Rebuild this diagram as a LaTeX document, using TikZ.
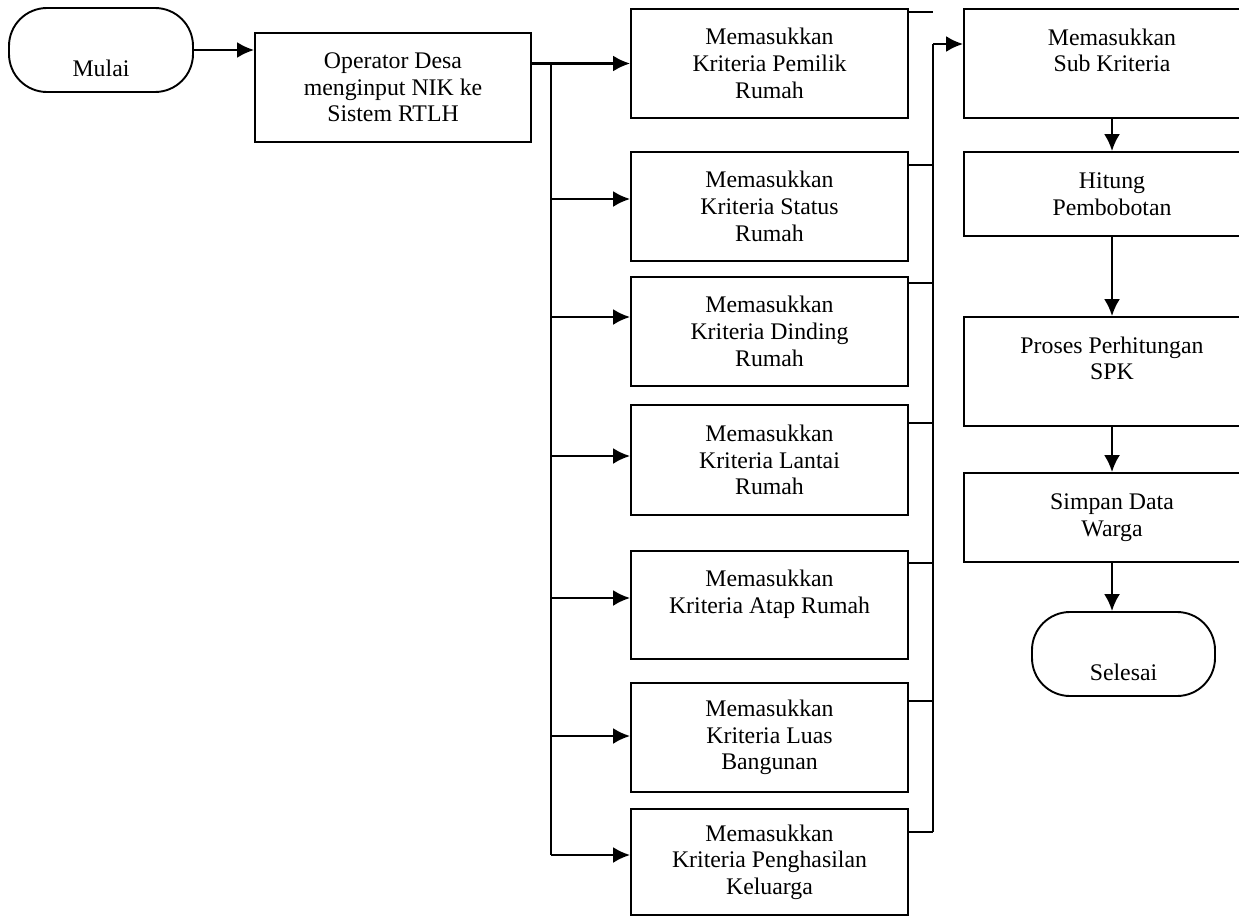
\documentclass[tikz,border=0pt]{standalone}
\usepackage{fontspec}
\setmainfont{Liberation Serif}
\usetikzlibrary{arrows.meta}

\tikzset{
    box/.style={draw, line width=1.9pt, minimum width=277pt, minimum height=109pt,
        align=center, inner sep=0pt},
    term/.style={box, rounded corners=38pt, minimum width=184pt, minimum height=84pt},
    arr/.style={line width=2.3pt, -{Latex[length=17pt,width=16pt]}},
    wire/.style={line width=1.5pt}
}

\begin{document}
\begin{tikzpicture}[x=1pt, y=-1pt, font=\fontsize{23.8}{26.7}\selectfont]

\useasboundingbox (0,0) rectangle (1239,918);
\clip (0,0) rectangle (1239,918);

\node[term] (mulai) at (101,50) {\mbox{}\\[26pt]Mulai};
\node[box, minimum width=276pt] (op) at (393,87.5) {Operator Desa\\menginput NIK ke\\Sistem RTLH};

\node[box] (k1) at (769.5,63.5) {Memasukkan\\Kriteria Pemilik\\Rumah};
\node[box] (k2) at (769.5,206.5) {Memasukkan\\Kriteria Status\\Rumah};
\node[box] (k3) at (769.5,331.5) {Memasukkan\\Kriteria Dinding\\Rumah};
\node[box, minimum height=110pt] (k4) at (769.5,460) {Memasukkan\\Kriteria Lantai\\Rumah};
\node[box, minimum height=108pt] (k5) at (769.5,605) {Memasukkan\\Kriteria Atap Rumah\\\mbox{}};
\node[box] (k6) at (769.5,737.5) {Memasukkan\\Kriteria Luas\\Bangunan};
\node[box, minimum height=106pt] (k7) at (769.5,862) {Memasukkan\\Kriteria Penghasilan\\Keluarga};

\node[box, minimum width=296pt] (sub) at (1112,63.5) {Memasukkan\\Sub Kriteria\\\mbox{}};
\node[box, minimum width=296pt, minimum height=84pt] (hit) at (1112,194) {Hitung\\Pembobotan};
\node[box, minimum width=296pt] (spk) at (1112,371.5) {Proses Perhitungan\\SPK\\\mbox{}};
\node[box, minimum width=296pt, minimum height=89pt] (simp) at (1112,517.5) {Simpan Data\\Warga};
\node[term, minimum width=183pt] (sel) at (1123.5,654) {\mbox{}\\[26pt]Selesai};

\coordinate (trunk) at (551,65);
\coordinate (coll) at (933,44);

\draw[arr] (mulai.east) -- (mulai.east -| op.west);
\draw[arr] (op.east |- k1.west) -- (k1.west);

\draw[wire] (trunk) -- (trunk |- 0,855);
\foreach \n/\y in {2/199,3/317,4/456,5/598,6/736,7/855}
    \draw[arr] (trunk |- 0,\y) -- (k\n.west |- 0,\y);

\draw[wire] (k1.east |- 0,12) -- (coll |- 0,12);
\foreach \n/\y in {2/165,3/283,4/423,5/563,6/701,7/832}
    \draw[wire] (k\n.east |- 0,\y) -- (coll |- 0,\y);
\draw[wire] (coll) -- (coll |- 0,832);
\draw[arr] (coll) -- (sub.west |- coll);

\draw[arr] (sub.south) -- (hit.north);
\draw[arr] (hit.south) -- (spk.north);
\draw[arr] (spk.south) -- (simp.north);
\draw[arr] (simp.south) -- (simp.south |- sel.north);

\end{tikzpicture}
\end{document}
